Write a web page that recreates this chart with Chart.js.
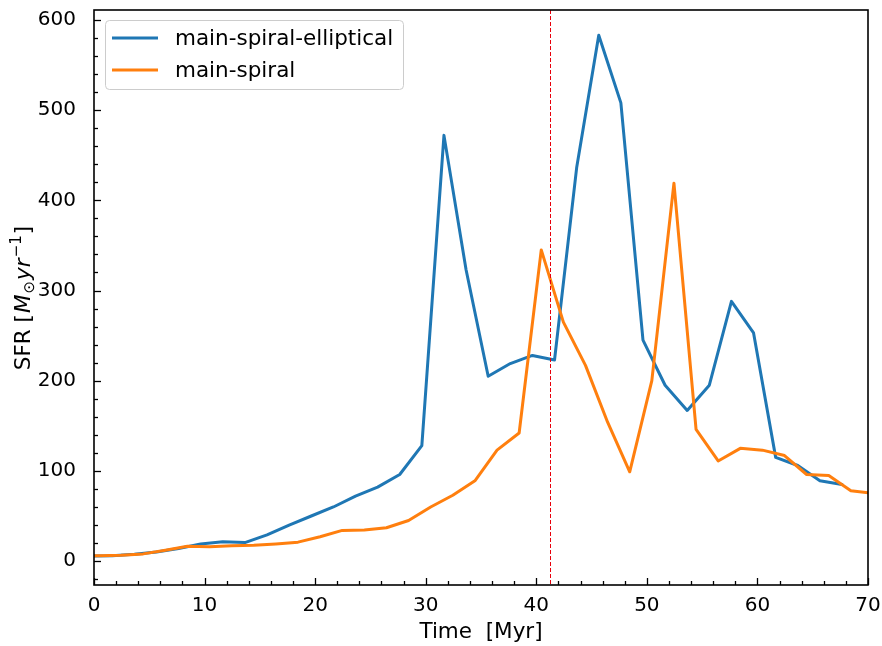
<!DOCTYPE html>
<html>
<head>
<meta charset="utf-8">
<script src="https://cdn.jsdelivr.net/npm/chart.js@4.4.1/dist/chart.umd.min.js"></script>
<style>
  html, body { margin: 0; padding: 0; background: #fff; }
  #wrap { width: 882px; height: 646px; }
</style>
</head>
<body>
<div id="wrap"><canvas id="sfrChart" width="882" height="646"></canvas></div>
<script>
// data
const ellipticalTime = [-0.35, 1.65, 3.65, 5.65, 7.65, 9.65, 11.65, 13.65, 15.65, 17.65, 19.65,
  21.65, 23.65, 25.65, 27.65, 29.65, 31.65, 33.65, 35.65, 37.65, 39.65, 41.65, 43.65, 45.65,
  47.65, 49.65, 51.65, 53.65, 55.65, 57.65, 59.65, 61.65, 63.65, 65.65, 67.65];
const ellipticalSFR = [5.5, 6, 7.5, 10, 14, 19, 21.5, 20.5, 29, 40, 50,
  60, 72, 82, 96, 128, 472, 323, 205, 219, 228, 223, 436, 583,
  508, 245, 195, 167, 195, 288, 253, 115, 106, 89, 85];

const spiralTime = [-1.55, 0.45, 2.45, 4.45, 6.45, 8.45, 10.45, 12.45, 14.45, 16.45, 18.45,
  20.45, 22.45, 24.45, 26.45, 28.45, 30.45, 32.45, 34.45, 36.45, 38.45, 40.45, 42.45, 44.45,
  46.45, 48.45, 50.45, 52.45, 54.45, 56.45, 58.45, 60.45, 62.45, 64.45, 66.45, 68.45, 70.45];
const spiralSFR = [5.5, 6, 6.5, 8, 12, 16.5, 16, 17, 17.5, 19, 21,
  27, 34, 34.5, 37, 45, 60, 73, 89, 123, 142, 345, 265, 217,
  154, 99, 200, 419, 146, 111, 125, 123, 117, 96, 95, 78, 75];

const seriesLabels = ['main-spiral-elliptical', 'main-spiral'];
const mergerTime = 41.2;
const xTicks = [0, 10, 20, 30, 40, 50, 60, 70];
const yTicks = [0, 100, 200, 300, 400, 500, 600];

const FONT = 'DejaVu Sans';

function toPoints(xs, ys) {
  return xs.map((x, i) => ({ x: x, y: ys[i] }));
}

// inward ticks (major + minor), frame, merger line, legend, y title
const decorations = {
  id: 'decorations',
  afterDatasetsDraw(chart) {
    const ctx = chart.ctx;
    const a = chart.chartArea;
    const xs = chart.scales.x;

    // vertical dashed line
    const vx = Math.round(xs.getPixelForValue(mergerTime)) + 0.5;
    ctx.save();
    ctx.strokeStyle = '#e8000b';
    ctx.lineWidth = 1;
    ctx.setLineDash([4, 2]);
    ctx.beginPath();
    ctx.moveTo(vx, a.top);
    ctx.lineTo(vx, a.bottom);
    ctx.stroke();
    ctx.restore();
  },
  afterDraw(chart) {
    const ctx = chart.ctx;
    const a = chart.chartArea;
    const xs = chart.scales.x, ys = chart.scales.y;

    ctx.save();
    ctx.strokeStyle = '#000';
    ctx.lineWidth = 1.3;
    // x ticks
    for (let v = 0; v <= 70; v += 2) {
      const px = Math.round(xs.getPixelForValue(v)) + 0.5;
      const len = v % 10 === 0 ? 7 : 4;
      ctx.beginPath();
      ctx.moveTo(px, a.bottom);
      ctx.lineTo(px, a.bottom - len);
      ctx.stroke();
    }
    // y ticks
    for (let v = -20; v <= 600; v += 20) {
      const py = Math.round(ys.getPixelForValue(v)) + 0.5;
      const len = v % 100 === 0 ? 7 : 4;
      ctx.beginPath();
      ctx.moveTo(a.left, py);
      ctx.lineTo(a.left + len, py);
      ctx.stroke();
    }
    // frame
    ctx.lineWidth = 1.6;
    ctx.strokeRect(a.left, a.top, a.right - a.left, a.bottom - a.top);
    ctx.restore();

    // legend
    const lx = a.left + 11, ly = a.top + 10, lw = 298, lh = 69;
    ctx.save();
    ctx.fillStyle = 'rgba(255,255,255,0.8)';
    ctx.strokeStyle = '#cccccc';
    ctx.lineWidth = 1;
    ctx.beginPath();
    ctx.roundRect(lx + 0.5, ly + 0.5, lw, lh, 4);
    ctx.fill();
    ctx.stroke();
    ctx.font = '21.5px "' + FONT + '"';
    ctx.textBaseline = 'middle';
    chart.data.datasets.forEach((ds, i) => {
      const yy = ly + 18 + i * 32;
      ctx.strokeStyle = ds.borderColor;
      ctx.lineWidth = 3;
      ctx.beginPath();
      ctx.moveTo(lx + 7, yy);
      ctx.lineTo(lx + 53, yy);
      ctx.stroke();
      ctx.fillStyle = '#000';
      ctx.fillText(ds.label, lx + 70, yy + 1);
    });
    ctx.restore();

    // y axis title: SFR [M_sun yr^-1]
    ctx.save();
    ctx.translate(22, (a.top + a.bottom) / 2);
    ctx.rotate(-Math.PI / 2);
    ctx.fillStyle = '#000';
    ctx.textBaseline = 'alphabetic';
    const parts = [
      { t: 'SFR [', f: '21.5px "' + FONT + '"', dy: 0 },
      { t: 'M', f: 'italic 21.5px "' + FONT + '"', dy: 0 },
      { t: '\u2299', f: '15px "' + FONT + '"', dy: 4 },
      { t: 'yr', f: 'italic 21.5px "' + FONT + '"', dy: 0 },
      { t: '\u22121', f: '15px "' + FONT + '"', dy: -9 },
      { t: ']', f: '21.5px "' + FONT + '"', dy: 0 }
    ];
    let total = 0;
    parts.forEach(p => { ctx.font = p.f; total += ctx.measureText(p.t).width + 1; });
    let cx = -total / 2;
    parts.forEach(p => {
      ctx.font = p.f;
      ctx.fillText(p.t, cx, 8 + p.dy);
      cx += ctx.measureText(p.t).width + 1;
    });
    ctx.restore();
  }
};

new Chart(document.getElementById('sfrChart').getContext('2d'), {
  type: 'line',
  data: {
    datasets: [
      {
        label: seriesLabels[0],
        data: toPoints(ellipticalTime, ellipticalSFR),
        borderColor: '#1f77b4',
        borderWidth: 3,
        borderJoinStyle: 'round',
        borderCapStyle: 'round',
        pointRadius: 0,
        tension: 0,
        clip: 0,
        order: 2
      },
      {
        label: seriesLabels[1],
        data: toPoints(spiralTime, spiralSFR),
        borderColor: '#ff7f0e',
        borderWidth: 3,
        borderJoinStyle: 'round',
        borderCapStyle: 'round',
        pointRadius: 0,
        tension: 0,
        clip: 0,
        order: 1
      }
    ]
  },
  options: {
    responsive: false,
    animation: false,
    devicePixelRatio: 1,
    layout: { padding: { top: 10, right: 14, left: 0, bottom: 0 } },
    plugins: { legend: { display: false }, tooltip: { enabled: false } },
    scales: {
      x: {
        type: 'linear',
        min: 0,
        max: 70,
        afterBuildTicks: s => { s.ticks = xTicks.map(v => ({ value: v })); },
        afterFit: s => { s.height = 61; s.paddingLeft = 0; s.paddingRight = 0; },
        grid: { display: false },
        border: { display: false },
        ticks: { color: '#000', font: { family: FONT, size: 20 }, padding: 1, maxRotation: 0 },
        title: {
          display: true,
          text: 'Time  [Myr]',
          color: '#000',
          font: { family: FONT, size: 21.5 },
          padding: { top: 0, bottom: 1 }
        }
      },
      y: {
        type: 'linear',
        min: -26.5,
        max: 611,
        afterBuildTicks: s => { s.ticks = yTicks.map(v => ({ value: v })); },
        afterFit: s => { s.width = 94; s.paddingTop = 0; s.paddingBottom = 0; },
        grid: { display: false },
        border: { display: false },
        ticks: { color: '#000', font: { family: FONT, size: 20 }, padding: 10 }
      }
    }
  },
  plugins: [decorations]
});
</script>
</body>
</html>
